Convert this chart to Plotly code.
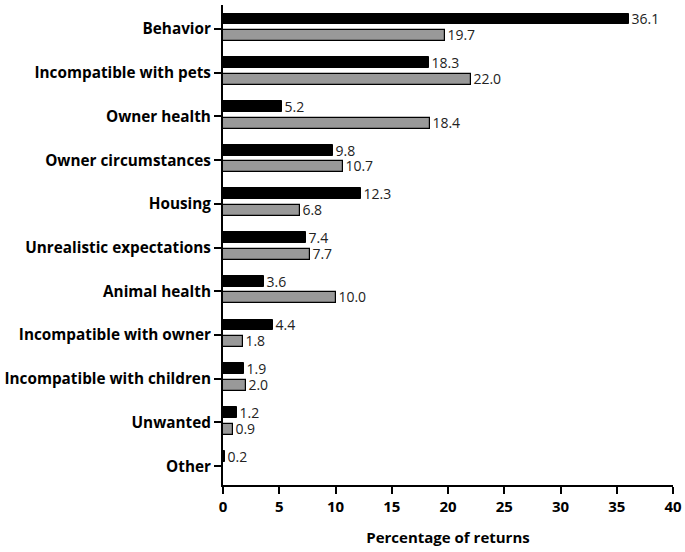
import plotly.graph_objects as go

categories = ["Behavior", "Incompatible with pets", "Owner health", "Owner circumstances",
              "Housing", "Unrealistic expectations", "Animal health", "Incompatible with owner",
              "Incompatible with children", "Unwanted", "Other"]
series_black = [36.1, 18.3, 5.2, 9.8, 12.3, 7.4, 3.6, 4.4, 1.9, 1.2, 0.2]
series_gray = [19.7, 22.0, 18.4, 10.7, 6.8, 7.7, 10.0, 1.8, 2.0, 0.9, None]
x_ticks = [0, 5, 10, 15, 20, 25, 30, 35, 40]

pos = list(range(len(categories)))
FONT = "Open Sans"

def lbl(vals):
    return ["" if v is None else f"{v:.1f}" for v in vals]

fig = go.Figure()
fig.add_trace(go.Bar(
    y=pos, x=series_black, orientation="h", width=0.25, offset=-0.355,
    marker=dict(color="#000000", line=dict(color="#000000", width=1)),
    text=lbl(series_black), textposition="outside", constraintext="none",
    textfont=dict(family=FONT, size=14, color="#222222"), cliponaxis=False,
    showlegend=False, hoverinfo="skip"))
fig.add_trace(go.Bar(
    y=pos, x=series_gray, orientation="h", width=0.25, offset=0.025,
    marker=dict(color="#999999", line=dict(color="#000000", width=1.2)),
    text=lbl(series_gray), textposition="outside", constraintext="none",
    textfont=dict(family=FONT, size=14, color="#222222"), cliponaxis=False,
    showlegend=False, hoverinfo="skip"))

fig.update_layout(
    width=685, height=552,
    margin=dict(l=223, r=12, t=5, b=67),
    plot_bgcolor="white", paper_bgcolor="white",
    barmode="overlay", bargap=0,
    font=dict(family=FONT, color="#000000"),
    xaxis=dict(range=[0, 40], tickvals=x_ticks, ticks="outside", ticklen=7, tickwidth=2,
               tickcolor="#000", showline=True, linecolor="#000", linewidth=2,
               showgrid=False, zeroline=False, automargin=False,
               tickfont=dict(family=FONT, size=15, color="#000", weight="bold"),
               title=dict(text="Percentage of returns", standoff=17,
                          font=dict(family=FONT, size=15, color="#000", weight="bold"))),
    yaxis=dict(range=[10.43, -0.55], tickvals=pos, ticktext=categories, ticks="outside",
               ticklen=7, tickwidth=2, tickcolor="#000", showline=True, linecolor="#000",
               linewidth=2, showgrid=False, zeroline=False, automargin=False,
               tickfont=dict(family=FONT, size=15.3, color="#000", weight="bold")),
)
fig.write_html("out.html", config={"displayModeBar": False},
               post_script="document.body.style.margin='0';document.body.style.overflow='hidden';")
